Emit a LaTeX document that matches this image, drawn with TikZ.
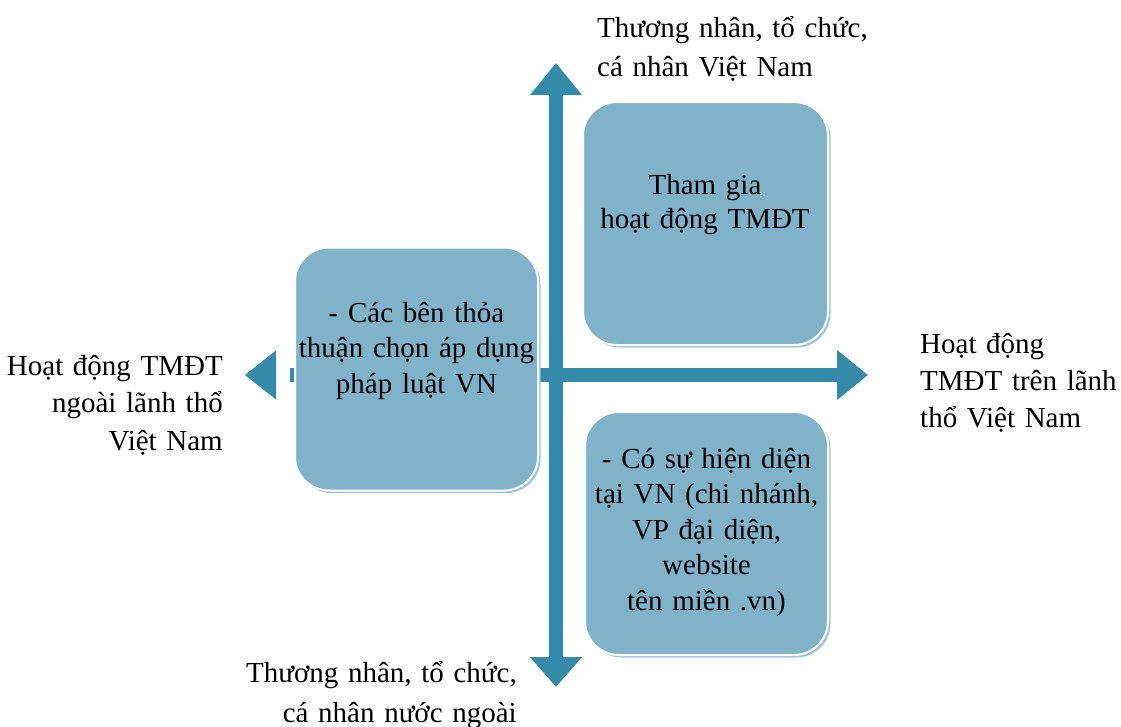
\documentclass[tikz,border=0pt]{standalone}
\usepackage{fontspec}
\setmainfont{Liberation Serif}
\usetikzlibrary{arrows.meta,shadows,calc}

\definecolor{axisblue}{HTML}{3589A9}
\definecolor{boxblue}{HTML}{80B3C9}
\definecolor{shadeblue}{HTML}{9FC6D8}

\tikzset{
  axis/.style={draw=axisblue, line width=13.5pt},
  axishead/.style={fill=axisblue, draw=none},
  card/.style={rectangle, rounded corners=34pt, fill=boxblue, draw=white,
    line width=2pt, minimum width=243pt, minimum height=243pt,
    inner sep=0pt, outer sep=0pt,
    drop shadow={shadow xshift=2.5pt, shadow yshift=-2.5pt,
      fill=shadeblue, opacity=1}},
  cardtext/.style={font=\fontsize{29}{35.5}\selectfont, text width=250pt,
    align=center, inner sep=0pt, anchor=base},
  sidetext/.style={font=\fontsize{29}{38}\selectfont, text width=300pt,
    inner sep=0pt}
}

\begin{document}
\begin{tikzpicture}[x=1pt, y=-1pt]
  \useasboundingbox (0,0) rectangle (1121,726);

  % axis end points
  \coordinate (vtop) at (556,63);
  \coordinate (vbot) at (556,687);
  \coordinate (hstart) at (290,375);
  \coordinate (hright) at (868,375);
  \coordinate (hleft) at (245,375);
  \coordinate (hleftbase) at (276,375);

  % vertical axis, arrow at both ends
  \draw[axis, {Triangle[width=50pt,length=32pt]}-{Triangle[width=50pt,length=30pt]}]
    (vtop) -- (vbot);
  % horizontal axis
  \draw[axis, -{Triangle[width=48pt,length=31pt]}] (hstart) -- (hright);
  \fill[axishead] (hleft) -- ($(hleftbase)+(0,-24.5)$) -- ($(hleftbase)+(0,24.5)$) -- cycle;

  % quadrant cards
  \node[card, minimum width=245pt] (vn) at (705.5,223.5) {};
  \node[card] (law) at (416.5,369) {};
  \node[card] (presence) at (706.5,533.5) {};

  \node[cardtext, font=\fontsize{29}{34}\selectfont] (vntext) at (705,194)
    {Tham gia\\ hoạt động TMĐT};
  \node[cardtext] (lawtext) at (416.5,322)
    {- Các bên thỏa\\ thuận chọn áp dụng\\ pháp luật VN};
  \node[cardtext] (presencetext) at (706.5,468)
    {- Có sự hiện diện\\ tại VN (chi nhánh,\\ VP đại diện,\\ website\\ tên miền .vn)};

  % axis captions
  \node[sidetext, anchor=base west, align=left,
    font=\fontsize{29}{39}\selectfont] (topcap) at (597,37)
    {Thương nhân, tổ chức,\\ cá nhân Việt Nam};
  \node[sidetext, anchor=base east, align=right,
    font=\fontsize{29}{40}\selectfont] (botcap) at (517,682)
    {Thương nhân, tổ chức,\\ cá nhân nước ngoài};
  \node[sidetext, anchor=base east, align=right,
    font=\fontsize{29}{37.5}\selectfont] (leftcap) at (223,375)
    {Hoạt động TMĐT\\ ngoài lãnh thổ\\ Việt Nam};
  \node[sidetext, anchor=base west, align=left,
    font=\fontsize{29}{37}\selectfont] (rightcap) at (920,353)
    {Hoạt động\\ TMĐT trên lãnh\\ thổ Việt Nam};
\end{tikzpicture}
\end{document}
